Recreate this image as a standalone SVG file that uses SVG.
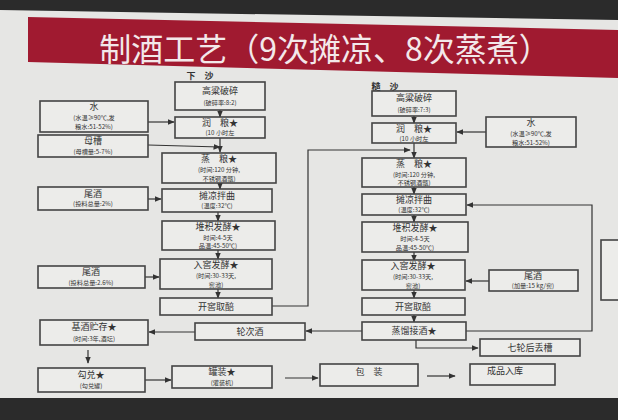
<svg xmlns="http://www.w3.org/2000/svg" width="618" height="420" viewBox="0 0 618 420">
<defs>
<marker id="ah" viewBox="0 0 10 10" refX="9" refY="5" markerWidth="6" markerHeight="6" orient="auto"><path d="M0,1 L10,5 L0,9 z" fill="#333"/></marker>
<style>
.b{fill:#ececea;stroke:#444;stroke-width:1.6}
.t{font-family:"Noto Sans CJK SC",sans-serif;fill:#333;text-anchor:middle}
.h{font-size:9px}
.s{font-size:6.2px}
.c line,.c polyline{stroke:#333;stroke-width:1.2;fill:none;marker-end:url(#ah)}
</style>
</defs>
<rect width="618" height="420" fill="#2b2b2b"/>
<polygon points="0,10 618,20 618,398 0,398" fill="#e6e6e4"/>
<polygon points="28,17 618,30 618,78 28,62" fill="#a01a30"/>
<text x="325" y="61" font-family="Noto Sans CJK SC,sans-serif" font-size="32" fill="#f3e8ea" text-anchor="middle">制酒工艺（9次摊凉、8次蒸煮）</text>
<text class="t h" x="200" y="79" font-weight="bold">下　沙</text>
<text class="t h" x="385" y="90" font-weight="bold">糙　沙</text>

<g class="c">
<line x1="220" y1="110" x2="220" y2="117"/>
<line x1="148" y1="122" x2="174" y2="122"/>
<line x1="220" y1="138" x2="220" y2="152"/>
<polyline points="148,145 220,147"/>
<line x1="220" y1="183" x2="220" y2="189"/>
<line x1="148" y1="199" x2="161" y2="199"/>
<line x1="218" y1="212" x2="218" y2="221"/>
<line x1="218" y1="250" x2="218" y2="259"/>
<line x1="145" y1="277" x2="159" y2="277"/>
<line x1="218" y1="289" x2="218" y2="298"/>
<polyline points="272,306 308,306 308,150 410,150"/>
<line x1="414" y1="116" x2="414" y2="123"/>
<line x1="486" y1="132" x2="457" y2="132"/>
<line x1="414" y1="143" x2="414" y2="158"/>
<line x1="414" y1="187" x2="414" y2="194"/>
<line x1="414" y1="215" x2="414" y2="222"/>
<line x1="414" y1="252" x2="414" y2="261"/>
<line x1="489" y1="281" x2="466" y2="281"/>
<line x1="414" y1="290" x2="414" y2="298"/>
<line x1="414" y1="315" x2="414" y2="322"/>
<polyline points="466,331 592,331 592,205 467,205"/>
<line x1="362" y1="331" x2="306" y2="331"/>
<line x1="195" y1="332" x2="149" y2="332"/>
<line x1="88" y1="350" x2="88" y2="363"/>
<line x1="145" y1="380" x2="171" y2="380"/>
<line x1="285" y1="378" x2="318" y2="378"/>
<line x1="427" y1="376" x2="455" y2="376"/>
<polyline points="416,340 416,348 478,348"/>
</g>

<g id="l1"><rect class="b" x="175" y="82" width="90" height="28"/><text class="t h" x="220" y="94">高粱破碎</text><text class="t s" x="220" y="105">(破碎率:8:2)</text></g>
<g id="lw"><rect class="b" x="40" y="101" width="108" height="31"/><text class="t h" x="94" y="110">水</text><text class="t s" x="94" y="120">(水温≥90℃,发</text><text class="t s" x="94" y="128.5">粮水:51-52%)</text></g>
<g id="l2"><rect class="b" x="175" y="117" width="90" height="21"/><text class="t h" x="220" y="126">润　粮★</text><text class="t s" x="220" y="135">(10 小时左</text></g>
<g id="lm"><rect class="b" x="38" y="135" width="110" height="22"/><text class="t h" x="93" y="144">母槽</text><text class="t s" x="93" y="154">(母槽量:5-7%)</text></g>
<g id="l3"><rect class="b" x="162" y="153" width="114" height="30"/><text class="t h" x="219" y="162">蒸　粮★</text><text class="t s" x="219" y="172">(时间:120 分钟,</text><text class="t s" x="219" y="180.5">不锈钢酒甑)</text></g>
<g id="lt1"><rect class="b" x="38" y="187" width="110" height="23"/><text class="t h" x="93" y="197">尾酒</text><text class="t s" x="93" y="206">(投料总量:2%)</text></g>
<g id="l4"><rect class="b" x="162" y="189" width="110" height="23"/><text class="t h" x="217" y="199">摊凉拌曲</text><text class="t s" x="217" y="208">(温度:32℃)</text></g>
<g id="l5"><rect class="b" x="162" y="221" width="113" height="29"/><text class="t h" x="218" y="230">堆积发酵★</text><text class="t s" x="218" y="240">时间:4-5天</text><text class="t s" x="218" y="248">品温:45-50℃)</text></g>
<g id="lt2"><rect class="b" x="38" y="266" width="107" height="22"/><text class="t h" x="91" y="275">尾酒</text><text class="t s" x="91" y="285">(投料总量:2.6%)</text></g>
<g id="l6"><rect class="b" x="160" y="259" width="112" height="30"/><text class="t h" x="216" y="268">入窖发酵★</text><text class="t s" x="216" y="278">(时间:30-33天,</text><text class="t s" x="216" y="286.5">窖池)</text></g>
<g id="l7"><rect class="b" x="160" y="298" width="112" height="17"/><text class="t h" x="216" y="310">开窖取醅</text></g>
<g id="jj"><rect class="b" x="40" y="320" width="108" height="25"/><text class="t h" x="94" y="330">基酒贮存★</text><text class="t s" x="94" y="341">(时间:3年,酒坛)</text></g>
<g id="lc"><rect class="b" x="195" y="323" width="110" height="17"/><text class="t h" x="250" y="335">轮次酒</text></g>
<g id="gd"><rect class="b" x="38" y="368" width="107" height="24"/><text class="t h" x="91" y="378">勾兑★</text><text class="t s" x="91" y="388">(勾兑罐)</text></g>
<g id="gz"><rect class="b" x="172" y="366" width="100" height="22"/><text class="t h" x="222" y="375">罐装★</text><text class="t s" x="222" y="385">(灌装机)</text></g>
<g id="bz"><rect class="b" x="320" y="364" width="98" height="22"/><text class="t h" x="369" y="375">包　装</text></g>
<g id="cp"><rect class="b" x="470" y="364" width="85" height="21"/><text class="t h" x="505" y="374">成品入库</text></g>

<g id="r1"><rect class="b" x="372" y="91" width="84" height="25"/><text class="t h" x="414" y="101">高粱破碎</text><text class="t s" x="414" y="112">(破碎率:7:3)</text></g>
<g id="r2"><rect class="b" x="372" y="123" width="84" height="20"/><text class="t h" x="414" y="132">润　粮★</text><text class="t s" x="414" y="141">(10 小时左</text></g>
<g id="rw"><rect class="b" x="486" y="117" width="90" height="30"/><text class="t h" x="531" y="126">水</text><text class="t s" x="531" y="136">(水温≥90℃,发</text><text class="t s" x="531" y="144.5">粮水:51-52%)</text></g>
<g id="r3"><rect class="b" x="362" y="158" width="104" height="29"/><text class="t h" x="414" y="167">蒸　粮★</text><text class="t s" x="414" y="177">(时间:120 分钟,</text><text class="t s" x="414" y="185">不锈钢酒甑)</text></g>
<g id="r4"><rect class="b" x="362" y="194" width="104" height="21"/><text class="t h" x="414" y="203">摊凉拌曲</text><text class="t s" x="414" y="212">(温度:32℃)</text></g>
<g id="r5"><rect class="b" x="362" y="222" width="106" height="30"/><text class="t h" x="415" y="231">堆积发酵★</text><text class="t s" x="415" y="241">时间:4-5天</text><text class="t s" x="415" y="249.5">品温:45-50℃)</text></g>
<g id="r6"><rect class="b" x="362" y="260" width="103" height="30"/><text class="t h" x="413" y="269">入窖发酵★</text><text class="t s" x="413" y="279">(时间:30-33天,</text><text class="t s" x="413" y="287.5">窖池)</text></g>
<g id="rt"><rect class="b" x="489" y="270" width="89" height="21"/><text class="t h" x="533" y="279">尾酒</text><text class="t s" x="533" y="288">(加量:15 kg/窖)</text></g>
<g id="r7"><rect class="b" x="362" y="298" width="103" height="17"/><text class="t h" x="413" y="310">开窖取醅</text></g>
<g id="r8"><rect class="b" x="362" y="322" width="104" height="18"/><text class="t h" x="414" y="334">蒸馏接酒★</text></g>
<g id="r9"><rect class="b" x="480" y="339" width="100" height="17"/><text class="t h" x="530" y="351">七轮后丢槽</text></g>
<g id="rx"><rect class="b" x="601" y="240" width="30" height="60"/></g>
</svg>
